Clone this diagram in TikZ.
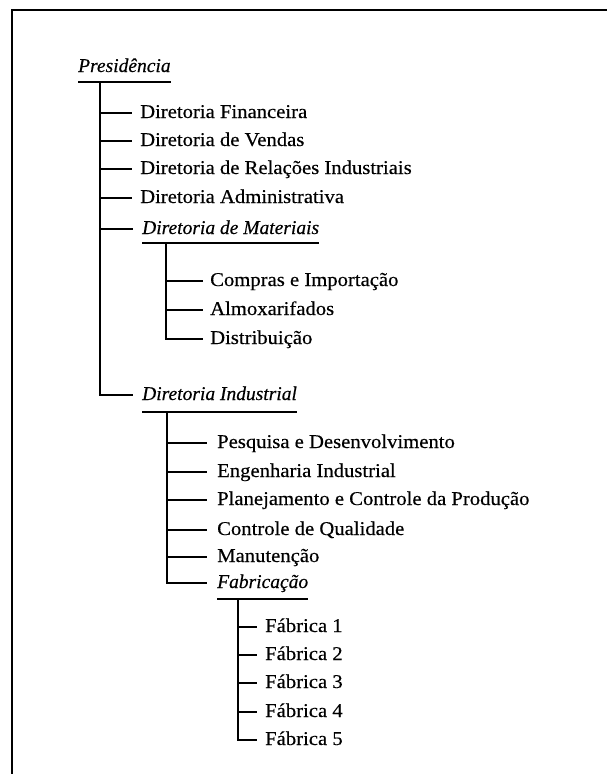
\documentclass[tikz,border=0pt]{standalone}
\usepackage{fontspec}
\setmainfont{Liberation Serif}
\newfontfamily\orgroman[FakeStretch=1.06,FakeBold=0.4]{Liberation Serif}
\newfontfamily\orgitalic[FakeBold=0.4]{Liberation Serif Italic}

\begin{document}
\begin{tikzpicture}[
x=1pt, y=-1pt,
unit/.style={anchor=base west, inner sep=0pt, text height=10pt, text depth=0pt, font=\fontsize{19.5}{23}\orgroman},
head/.style={unit, font=\fontsize{19.5}{23}\orgitalic},
tree_line/.style={line width=1.8pt},
frame_line/.style={line width=1.8pt}
]
\useasboundingbox (0,0) rectangle (607,774);

% frame (only top and left edges are visible)
\draw[frame_line] (12,774) -- (12,10) -- (607,10);

\node[head](pres) at (78,72) {Presidência};

\node[unit](financeira) at (140,118) {Diretoria Financeira};
\node[unit](vendas) at (140,146) {Diretoria de Vendas};
\node[unit](relacoes) at (140,174) {Diretoria de Relações Industriais};
\node[unit](administrativa) at (140,203) {Diretoria Administrativa};
\node[head](materiais) at (142,234) {Diretoria de Materiais};
\node[head](industrial) at (142,400) {Diretoria Industrial};

\node[unit](compras) at (210,286) {Compras e Importação};
\node[unit](almox) at (210,315) {Almoxarifados};
\node[unit](distrib) at (210,344) {Distribuição};

\node[unit](pesquisa) at (217,448) {Pesquisa e Desenvolvimento};
\node[unit](engenharia) at (217,477) {Engenharia Industrial};
\node[unit](planejamento) at (217,505) {Planejamento e Controle da Produção};
\node[unit](qualidade) at (217,535) {Controle de Qualidade};
\node[unit](manutencao) at (217,562) {Manutenção};
\node[head](fabricacao) at (217,588) {Fabricação};

\node[unit](fab_one) at (265,632) {Fábrica 1};
\node[unit](fab_two) at (265,660) {Fábrica 2};
\node[unit](fab_three) at (265,688) {Fábrica 3};
\node[unit](fab_four) at (265,717) {Fábrica 4};
\node[unit](fab_five) at (265,745) {Fábrica 5};

% underlines of the heads
\draw[tree_line]([yshift=-10pt]pres.base west) -- ([yshift=-10pt]pres.base east);
\draw[tree_line]([yshift=-9pt]materiais.base west) -- ([yshift=-9pt]materiais.base east);
\draw[tree_line]([yshift=-12pt]industrial.base west) -- ([yshift=-12pt]industrial.base east);
\draw[tree_line]([yshift=-11pt]fabricacao.base west) -- ([yshift=-11pt]fabricacao.base east);

\coordinate(pres_root) at (100,82);
\coordinate(materiais_root) at (166,243);
\coordinate(industrial_root) at (167,412);
\coordinate(fabricacao_root) at (238,599);

\draw[tree_line](pres_root) |- ([xshift=-8pt]financeira.west);
\draw[tree_line](pres_root) |- ([xshift=-8pt]vendas.west);
\draw[tree_line](pres_root) |- ([xshift=-8pt]relacoes.west);
\draw[tree_line](pres_root) |- ([xshift=-8pt]administrativa.west);
\draw[tree_line](pres_root) |- ([xshift=-9pt]materiais.west);
\draw[tree_line](pres_root) |- ([xshift=-9pt]industrial.west);

\draw[tree_line](materiais_root) |- ([xshift=-7pt]compras.west);
\draw[tree_line](materiais_root) |- ([xshift=-7pt]almox.west);
\draw[tree_line](materiais_root) |- ([xshift=-7pt]distrib.west);

\draw[tree_line](industrial_root) |- ([xshift=-10pt]pesquisa.west);
\draw[tree_line](industrial_root) |- ([xshift=-10pt]engenharia.west);
\draw[tree_line](industrial_root) |- ([xshift=-10pt]planejamento.west);
\draw[tree_line](industrial_root) |- ([xshift=-10pt]qualidade.west);
\draw[tree_line](industrial_root) |- ([xshift=-10pt]manutencao.west);
\draw[tree_line](industrial_root) |- ([xshift=-10pt]fabricacao.west);

\draw[tree_line](fabricacao_root) |- ([xshift=-8pt]fab_one.west);
\draw[tree_line](fabricacao_root) |- ([xshift=-8pt]fab_two.west);
\draw[tree_line](fabricacao_root) |- ([xshift=-8pt]fab_three.west);
\draw[tree_line](fabricacao_root) |- ([xshift=-8pt]fab_four.west);
\draw[tree_line](fabricacao_root) |- ([xshift=-8pt]fab_five.west);

\end{tikzpicture}
\end{document}
